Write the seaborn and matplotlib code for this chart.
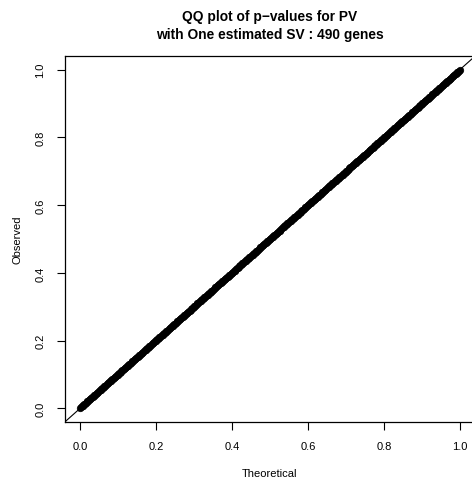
import numpy as np
import pandas as pd
import matplotlib
matplotlib.use("Agg")
import matplotlib.pyplot as plt
import seaborn as sns

# observed p-values (sorted), in thousandths
observed_milli = [
    2,4,6,8,10,12,14,16,19,21,23,25,27,29,31,33,35,37,39,41,
    43,45,47,49,51,53,55,57,59,61,63,65,67,69,72,74,76,78,80,82,
    84,86,88,90,92,94,96,98,100,102,104,106,108,110,112,114,116,118,120,122,
    124,126,128,130,132,135,137,139,141,143,145,147,149,151,153,155,157,159,161,163,
    165,167,169,171,173,175,177,179,181,183,185,188,190,192,194,196,198,200,202,204,
    206,208,210,212,214,216,218,220,222,224,226,228,230,232,234,236,238,240,242,244,
    246,248,250,252,254,257,259,261,263,265,267,269,271,273,275,277,279,281,283,285,
    287,289,291,293,295,297,299,301,303,305,308,310,312,314,316,318,320,322,324,326,
    328,330,332,334,336,338,340,342,344,346,348,350,353,355,357,359,361,363,365,367,
    369,371,373,375,377,379,381,383,385,387,389,391,393,395,397,399,401,403,405,407,
    409,411,413,415,417,419,422,424,426,428,430,432,434,436,438,440,442,444,446,448,
    450,452,454,456,458,460,462,464,466,468,470,473,475,477,479,481,483,485,487,489,
    491,493,495,497,499,501,503,505,507,509,511,513,515,517,519,521,523,525,527,530,
    532,534,536,538,540,542,544,546,548,550,552,554,556,558,560,562,564,566,568,570,
    572,574,576,578,580,583,585,587,589,591,593,595,597,599,601,603,605,607,609,611,
    613,615,617,619,621,623,625,627,629,631,634,636,638,640,642,644,646,648,650,652,
    654,656,658,660,662,664,666,668,670,672,674,676,678,680,682,684,686,688,690,692,
    694,696,698,700,702,704,707,709,711,713,715,717,719,721,723,725,727,729,731,733,
    735,737,739,741,743,745,747,749,751,753,755,757,760,762,764,766,768,770,772,774,
    776,778,780,782,784,786,788,790,792,794,796,798,800,802,804,806,808,811,813,815,
    817,819,821,823,825,827,829,831,833,835,837,839,841,843,845,847,849,851,853,855,
    857,859,861,863,865,867,869,872,874,876,878,880,882,884,886,888,890,892,894,896,
    898,900,902,904,906,908,910,912,914,916,918,920,922,925,927,929,931,933,935,937,
    939,941,943,945,947,949,951,953,955,957,959,961,963,965,967,969,971,973,975,978,
    980,982,984,986,988,990,992,994,996,998,
]
ticks = [0.0, 0.2, 0.4, 0.6, 0.8, 1.0]
tick_labels = ["0.0", "0.2", "0.4", "0.6", "0.8", "1.0"]
title = "QQ plot of p\u2212values for PV\nwith One estimated SV : 490 genes"

n = len(observed_milli)
observed = np.sort(np.array(observed_milli) / 1000.0)
theoretical = (np.arange(1, n + 1) - 0.5) / n   # uniform quantiles (ppoints)
df = pd.DataFrame({"Theoretical": theoretical, "Observed": observed})

sns.set_style("ticks")
plt.rcParams["font.family"] = ["Liberation Sans", "DejaVu Sans"]
plt.rcParams["text.color"] = "black"
plt.rcParams["axes.labelcolor"] = "black"

fig = plt.figure(figsize=(4.72, 4.81), dpi=100)
ax = fig.add_axes([64.8 / 472, 58 / 481, 410.4 / 472, 366 / 481])

sns.scatterplot(data=df, x="Theoretical", y="Observed", ax=ax, color="black",
                s=22, edgecolor="black", linewidth=0.5, legend=False, zorder=3)
ax.axline((0, 0), slope=1, color="black", lw=0.8, zorder=2)

ax.set_xlim(-0.04, 1.04)
ax.set_ylim(-0.04, 1.04)
ax.set_xticks(ticks)
ax.set_xticklabels(tick_labels)
ax.set_yticks(ticks)
ax.set_yticklabels(tick_labels, rotation=90, va="center")
ax.tick_params(axis="both", direction="out", length=6, width=0.8,
               labelsize=8, colors="black", labelcolor="black", pad=8)
for sp in ax.spines.values():
    sp.set_visible(True)
    sp.set_color("black")
    sp.set_linewidth(0.9)

ax.set_xlabel("Theoretical", fontsize=8, labelpad=12, color="black")
ax.set_ylabel("Observed", fontsize=8, labelpad=9, color="black")
fig.text(270 / 472, 1 - 26 / 481, title, fontsize=9.9, fontweight="bold",
         ha="center", va="center", linespacing=1.35, color="black")

fig.savefig("out.png", dpi=100)
